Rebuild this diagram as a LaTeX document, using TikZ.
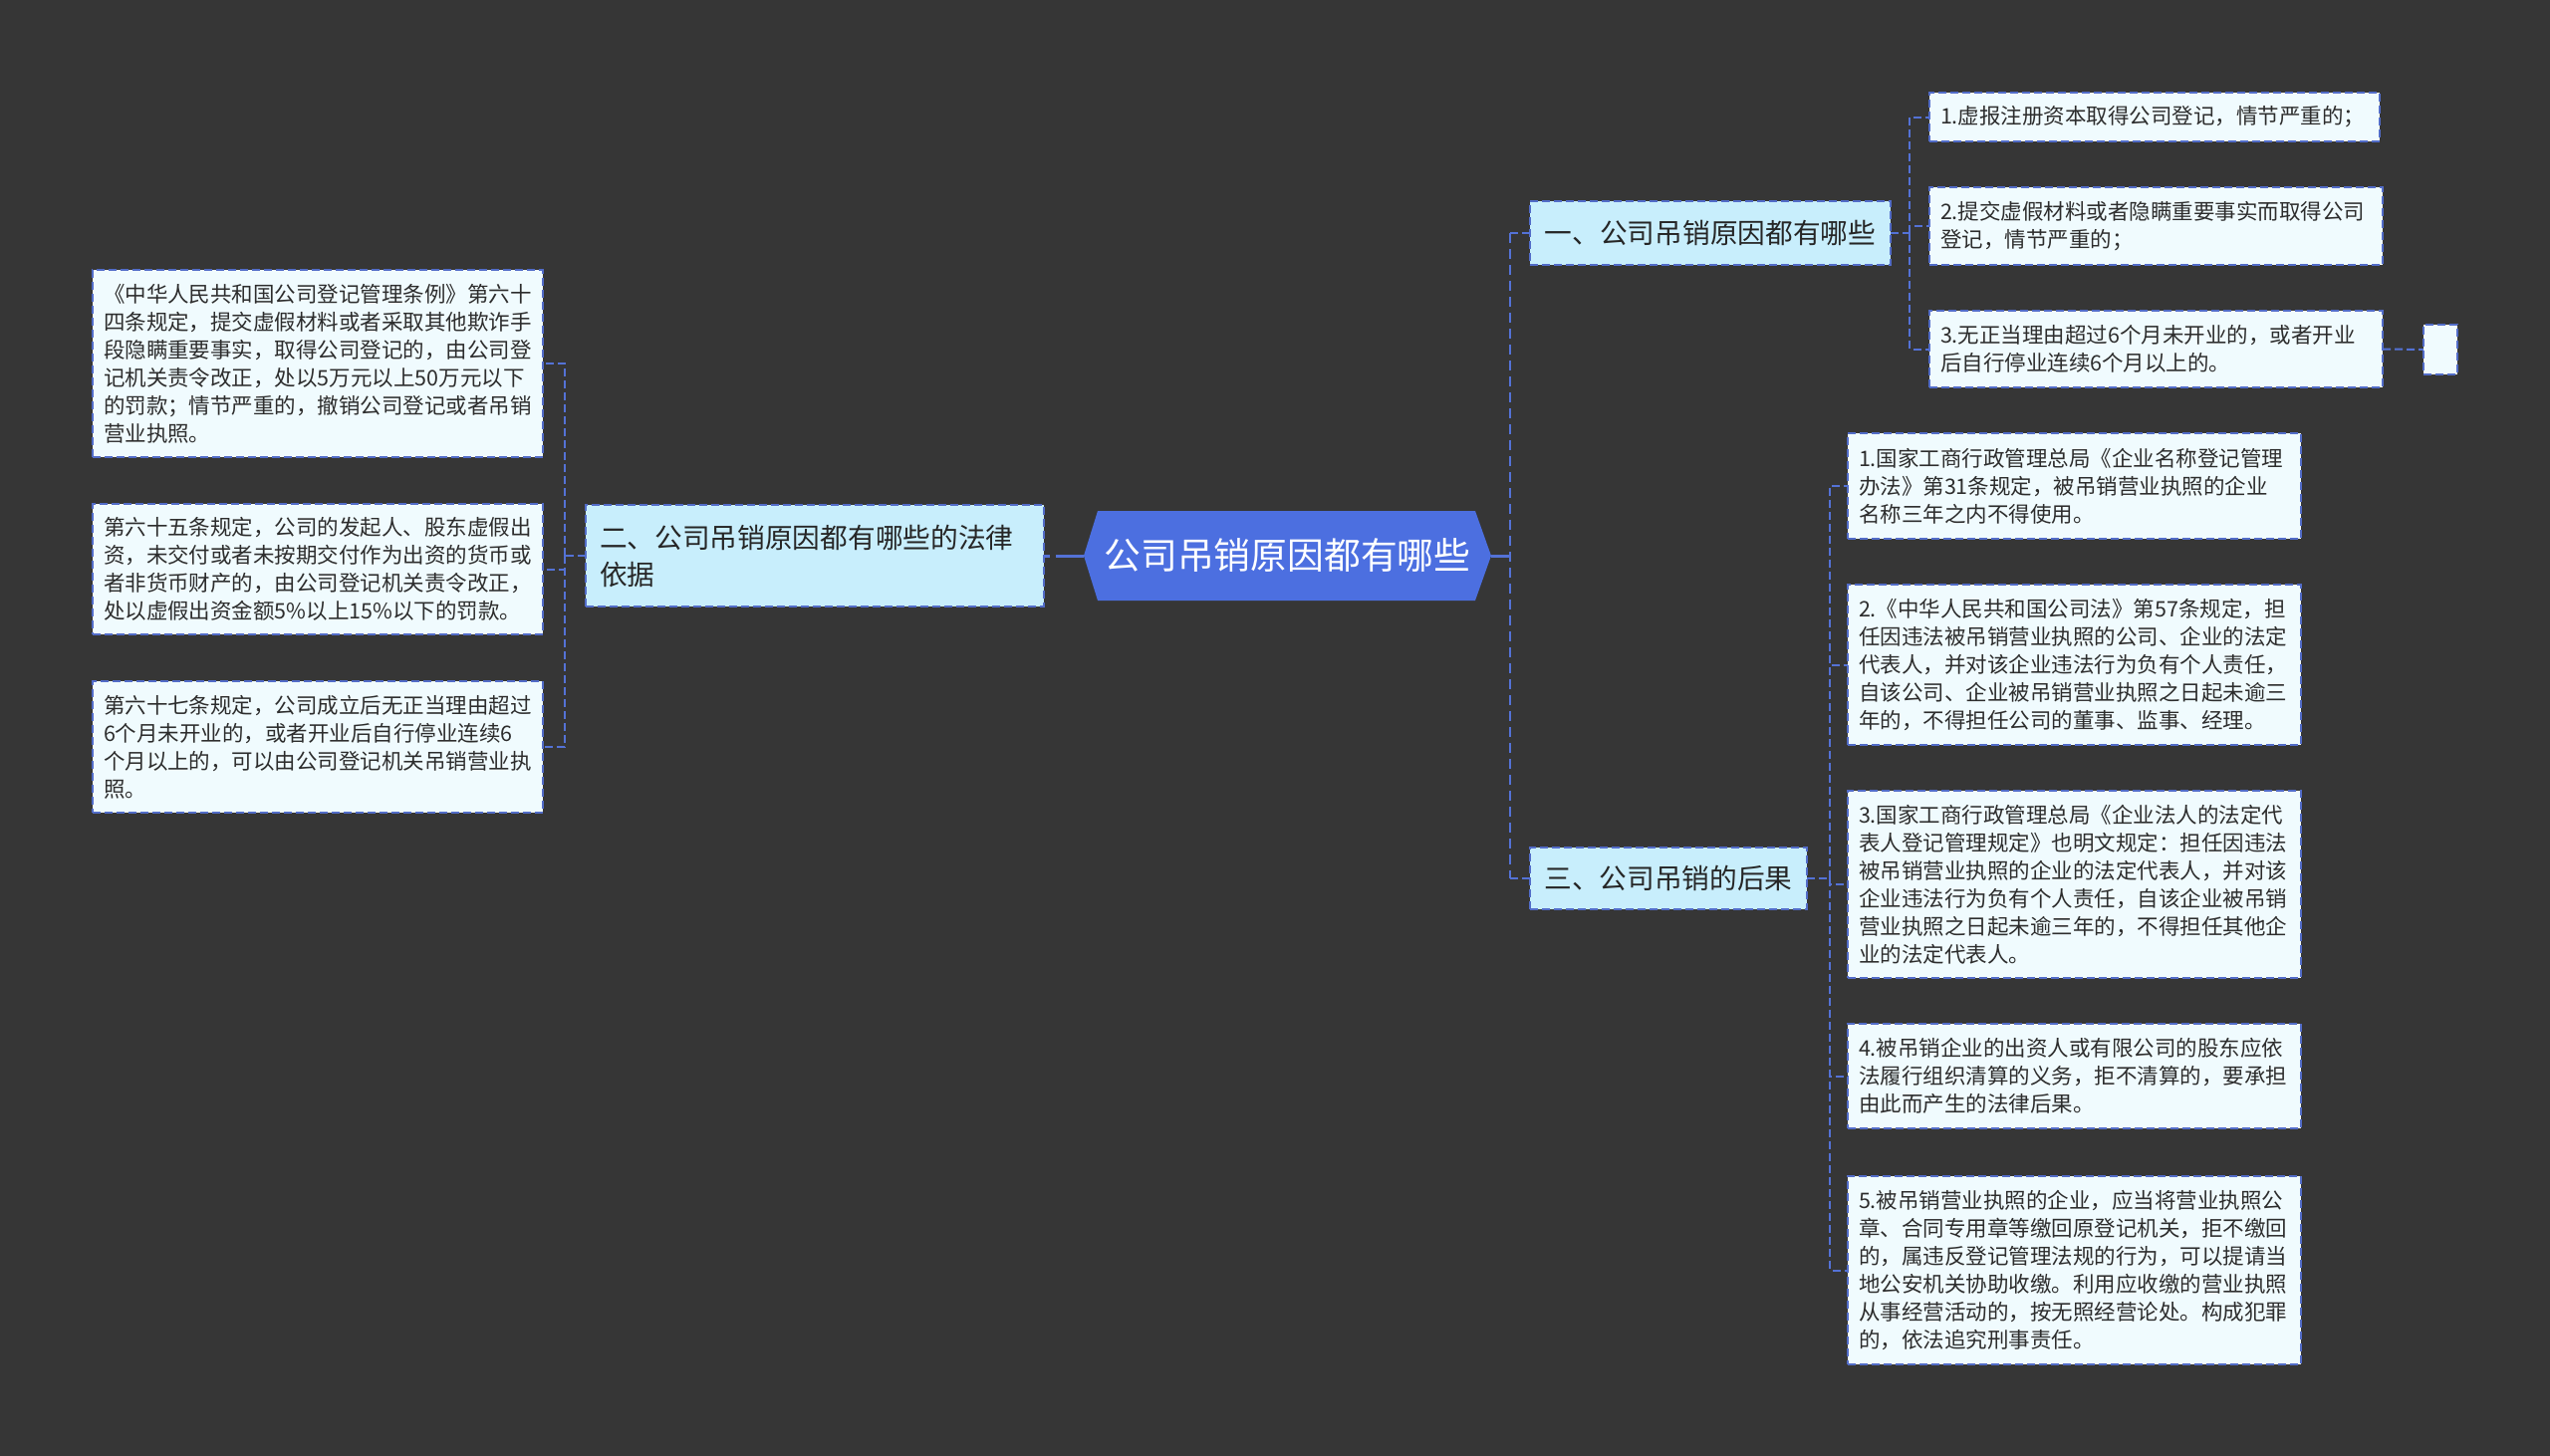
\documentclass[tikz,border=0pt]{standalone}
\usepackage{fontspec}
\setmainfont{Noto Sans CJK SC}
\usetikzlibrary{calc}
\definecolor{bgc}{RGB}{54,54,54}
\definecolor{rootfill}{RGB}{76,111,224}
\definecolor{midfill}{RGB}{200,238,252}
\definecolor{leaffill}{RGB}{240,251,254}
\definecolor{bordc}{RGB}{82,108,200}
\definecolor{linec}{RGB}{84,114,214}
\definecolor{txtc}{RGB}{45,45,45}
\tikzset{
  leaf/.style={draw=bordc, fill=leaffill, line width=1pt, dash pattern=on 4pt off 2pt,
    anchor=north west, inner xsep=5.5pt, inner ysep=0pt, outer sep=0pt, align=left,
    text=txtc, font=\fontsize{10.75pt}{14pt}\selectfont},
  midnode/.style={draw=bordc, fill=midfill, line width=1pt, dash pattern=on 4pt off 2pt,
    inner xsep=7pt, inner ysep=0pt, outer sep=0pt, text=black!85,
    font=\fontsize{13.85pt}{18.5pt}\selectfont},
  rootnode/.style={inner sep=0pt, outer sep=0pt, text=white,
    font=\fontsize{18.4pt}{22pt}\selectfont},
  branch/.style={draw=linec, line width=1pt, dash pattern=on 4pt off 2pt},
  trunkline/.style={draw=linec, line width=1.4pt, dash pattern=on 5pt off 3pt},
  rootline/.style={draw=linec, line width=1.5pt}
}
\begin{document}
\begin{tikzpicture}[x=0.5pt,y=-0.5pt]
\fill[bgc] (0,0) rectangle (2560,1462);
\useasboundingbox (0,0) rectangle (2560,1462);

% root
\fill[rootfill] (1088,558) -- (1102,513) -- (1481,513) -- (1497,558) -- (1481,603) -- (1102,603) -- cycle;
\node[rootnode, minimum width=204.5pt, minimum height=45pt] (root) at (1292.5,558) {公司吊销原因都有哪些};

% main branches
\node[midnode, minimum width=181pt, minimum height=32pt] (n1) at (1717,234) {一、公司吊销原因都有哪些};
\node[midnode, minimum width=230pt, minimum height=51pt, text width=216pt, align=left] (n2) at (818,558) {二、公司吊销原因都有哪些的法律\\依据};
\node[midnode, minimum width=139pt, minimum height=31pt] (n3) at (1675,882) {三、公司吊销的后果};

% left leaves
\node[leaf, minimum width=226pt, minimum height=94pt, text width=215pt] (L1) at (93,271) {《中华人民共和国公司登记管理条例》第六十\\四条规定，提交虚假材料或者采取其他欺诈手\\段隐瞒重要事实，取得公司登记的，由公司登\\记机关责令改正，处以5万元以上50万元以下\\的罚款；情节严重的，撤销公司登记或者吊销\\营业执照。};
\node[leaf, minimum width=226pt, minimum height=65.5pt, text width=215pt] (L2) at (93,506) {第六十五条规定，公司的发起人、股东虚假出\\资，未交付或者未按期交付作为出资的货币或\\者非货币财产的，由公司登记机关责令改正，\\处以虚假出资金额5\%以上15\%以下的罚款。};
\node[leaf, minimum width=226pt, minimum height=66pt, text width=215pt] (L3) at (93,684) {第六十七条规定，公司成立后无正当理由超过\\6个月未开业的，或者开业后自行停业连续6\\个月以上的，可以由公司登记机关吊销营业执\\照。};

% children of n1
\node[leaf, minimum width=226pt, minimum height=24.5pt, text width=215pt] (c1) at (1937,93) {1.虚报注册资本取得公司登记，情节严重的；};
\node[leaf, minimum width=227.5pt, minimum height=39pt, text width=216.5pt] (c2) at (1937,188) {2.提交虚假材料或者隐瞒重要事实而取得公司\\登记，情节严重的；};
\node[leaf, minimum width=227.5pt, minimum height=38.5pt, text width=216.5pt] (c3) at (1937,312) {3.无正当理由超过6个月未开业的，或者开业\\后自行停业连续6个月以上的。};
\node[leaf, minimum width=17pt, minimum height=25pt, inner xsep=0pt] (c3x) at (2433,326) {};

% children of n3
\node[leaf, minimum width=227.5pt, minimum height=53pt, text width=216.5pt] (d1) at (1855,435) {1.国家工商行政管理总局《企业名称登记管理\\办法》第31条规定，被吊销营业执照的企业\\名称三年之内不得使用。};
\node[leaf, minimum width=227.5pt, minimum height=80.5pt, text width=216.5pt] (d2) at (1855,587) {2.《中华人民共和国公司法》第57条规定，担\\任因违法被吊销营业执照的公司、企业的法定\\代表人，并对该企业违法行为负有个人责任，\\自该公司、企业被吊销营业执照之日起未逾三\\年的，不得担任公司的董事、监事、经理。};
\node[leaf, minimum width=227.5pt, minimum height=94pt, text width=216.5pt] (d3) at (1855,794) {3.国家工商行政管理总局《企业法人的法定代\\表人登记管理规定》也明文规定：担任因违法\\被吊销营业执照的企业的法定代表人，并对该\\企业违法行为负有个人责任，自该企业被吊销\\营业执照之日起未逾三年的，不得担任其他企\\业的法定代表人。};
\node[leaf, minimum width=227.5pt, minimum height=52.5pt, text width=216.5pt] (d4) at (1855,1028) {4.被吊销企业的出资人或有限公司的股东应依\\法履行组织清算的义务，拒不清算的，要承担\\由此而产生的法律后果。};
\node[leaf, minimum width=227.5pt, minimum height=94.5pt, text width=216.5pt] (d5) at (1855,1181) {5.被吊销营业执照的企业，应当将营业执照公\\章、合同专用章等缴回原登记机关，拒不缴回\\的，属违反登记管理法规的行为，可以提请当\\地公安机关协助收缴。利用应收缴的营业执照\\从事经营活动的，按无照经营论处。构成犯罪\\的，依法追究刑事责任。};

% connectors: root
\coordinate (tj) at ($(n1.west)+(-20,0)$);
\draw[rootline] (root.east) -- (root.east -| tj);
\draw[trunkline] (tj) -- (tj |- n3.west);
\draw[branch] (tj) -- (n1.west);
\draw[branch] (tj |- n3.west) -- (n3.west);
\draw[rootline, dash pattern=on 14pt off 3pt] (root.west) -- (n2.east);

% connectors: left
\coordinate (lj) at ($(n2.west)+(-21,0)$);
\draw[branch] (n2.west) -- (lj);
\draw[branch] (lj) |- (L1.east);
\draw[branch] (lj) |- (L2.east);
\draw[branch] (lj) |- (L3.east);

% connectors: n1 children
\coordinate (aj) at ($(n1.east)+(19,0)$);
\draw[branch] (n1.east) -- (aj);
\draw[branch] (aj) |- (c1.west);
\draw[branch] (aj) |- (c2.west);
\draw[branch] (aj) |- (c3.west);
\draw[branch] (c3.east) -- (c3x.west);

% connectors: n3 children
\coordinate (bj) at ($(n3.east)+(23,0)$);
\draw[branch] (n3.east) -- (bj);
\draw[branch] (bj) |- (d1.west);
\draw[branch] (bj) |- (d2.west);
\draw[branch] (bj) |- (d3.west);
\draw[branch] (bj) |- (d4.west);
\draw[branch] (bj) |- (d5.west);
\end{tikzpicture}
\end{document}
